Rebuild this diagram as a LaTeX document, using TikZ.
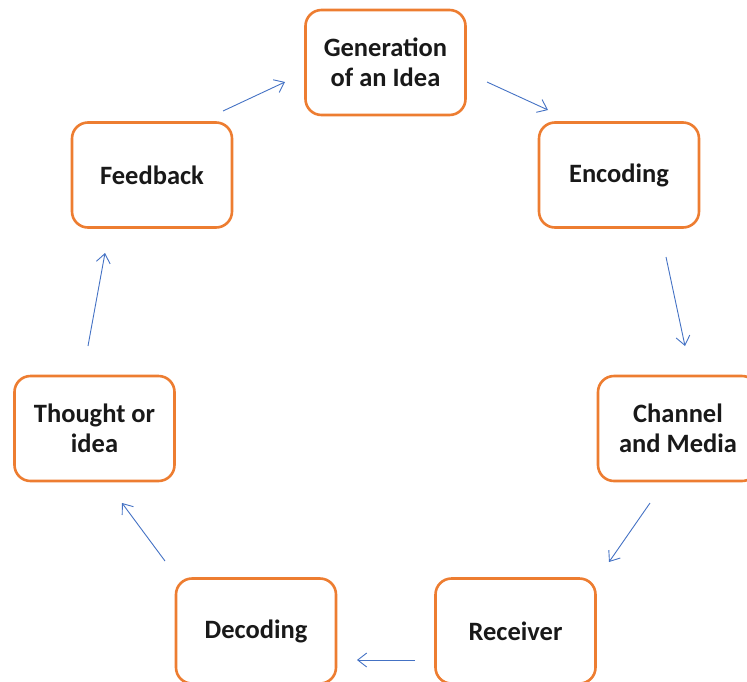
\documentclass[tikz,border=0pt]{standalone}
\usepackage{fontspec}
\setmainfont{Carlito}
\usetikzlibrary{arrows.meta}
\definecolor{boxline}{HTML}{ED7D31}
\definecolor{arrowblue}{HTML}{4472C4}
\begin{document}
\begin{tikzpicture}[x=1pt,y=-1pt,
  stage/.style={draw=boxline, line width=2.6pt, rounded corners=16pt,
    minimum width=160pt, minimum height=105pt, align=center,
    font=\fontsize{26.5}{30}\selectfont\bfseries, text=black!90},
  flow/.style={draw=arrowblue, line width=0.9pt,
    -{Straight Barb[length=9pt,width=14pt,line width=0.9pt]}}]
\useasboundingbox (0,0) rectangle (747,681);
\clip (0,0) rectangle (747,681);

% process stages
\node[stage] (gen) at (385.5,62.5) {Generation\\of an Idea};
\node[stage] (enc) at (619,175) {Encoding};
\node[stage] (chan) at (678,428.5) {Channel\\and Media};
\node[stage] (rec) at (515.5,631) {Receiver};
\node[stage] (dec) at (256,631) {Decoding};
\node[stage] (tho) at (94.5,428.5) {Thought or\\idea};
\node[stage] (fb) at (152,175) {Feedback};

% arrow end points between neighbouring stages
\coordinate (fb-out) at (223,111);   \coordinate (gen-in) at (285,82);
\coordinate (gen-out) at (487,82);   \coordinate (enc-in) at (548,110);
\coordinate (enc-out) at (666,257);  \coordinate (chan-in) at (685,346);
\coordinate (chan-out) at (650,503); \coordinate (rec-in) at (609,562);
\coordinate (rec-out) at (415,660);  \coordinate (dec-in) at (357,660);
\coordinate (dec-out) at (165,561);  \coordinate (tho-in) at (122,503);
\coordinate (tho-out) at (88,346);   \coordinate (fb-in) at (105,253);

\draw[flow] (fb-out) -- (gen-in);
\draw[flow] (gen-out) -- (enc-in);
\draw[flow] (enc-out) -- (chan-in);
\draw[flow] (chan-out) -- (rec-in);
\draw[flow] (rec-out) -- (dec-in);
\draw[flow] (dec-out) -- (tho-in);
\draw[flow] (tho-out) -- (fb-in);
\end{tikzpicture}
\end{document}
